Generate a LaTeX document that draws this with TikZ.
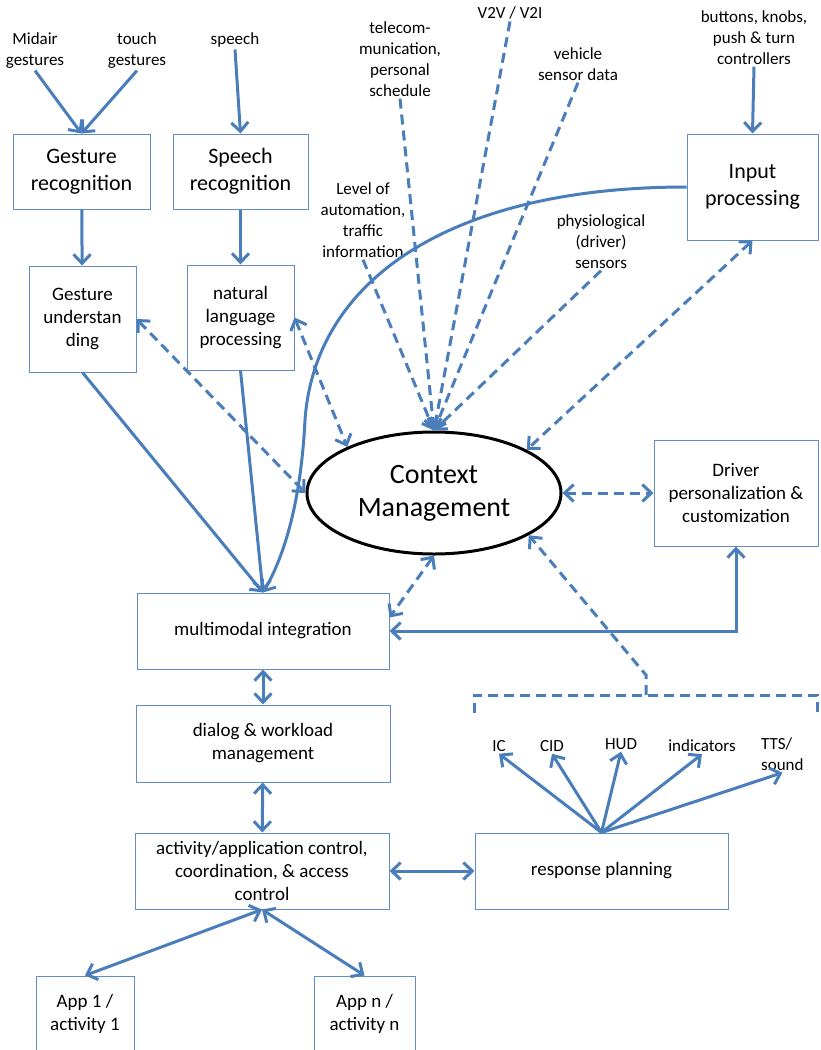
\documentclass[tikz,border=0pt]{standalone}
\usepackage{fontspec}
\setmainfont{Carlito}
\usetikzlibrary{arrows.meta,shapes.geometric}
\definecolor{flowblue}{RGB}{74,126,187}
\definecolor{boxblue}{RGB}{98,142,198}

\begin{document}
\begin{tikzpicture}[x=1pt, y=-1pt,
        box/.style={rectangle, draw=boxblue, line width=1pt, align=center, inner sep=2pt, font=\fontsize{19}{23}\selectfont},
        bigbox/.style={box, font=\fontsize{22}{27}\selectfont},
        src/.style={align=center, inner sep=2pt, font=\fontsize{17}{21}\selectfont},
        arrow/.style={draw=flowblue, line width=3pt, -{Straight Barb[length=9pt,width=17pt]}},
        both/.style={arrow, {Straight Barb[length=9pt,width=17pt]}-{Straight Barb[length=9pt,width=17pt]}},
        dasharrow/.style={arrow, dash pattern=on 10pt off 6pt},
        dboth/.style={both, dash pattern=on 10pt off 6pt}
    ]
        \path[use as bounding box] (0,0) rectangle (820,1050);
        \clip (0,0) rectangle (820,1050);

        \node[bigbox, minimum width=137pt, minimum height=75pt] (grec) at (81.5,171.5) {Gesture\\recognition};
        \node[bigbox, minimum width=135pt, minimum height=75pt] (srec) at (240.5,171.5) {Speech\\recognition};
        \node[box, minimum width=107pt, minimum height=106pt] (gund) at (82.5,319) {Gesture\\understan\\ding};
        \node[box, minimum width=107pt, minimum height=105pt] (nlp) at (240.5,317.5) {natural\\language\\processing};
        \node[bigbox, minimum width=131pt, minimum height=106pt] (inproc) at (752.5,187) {Input\\processing};
        \node[ellipse, draw=black, line width=3pt, minimum width=254pt, minimum height=122pt, inner sep=0pt, align=center, font=\fontsize{28}{33}\selectfont] (ctx) at (434,493) {Context\\Management};
        \node[box, minimum width=164pt, minimum height=106pt] (driver) at (736,493) {Driver\\personalization \&\\customization};
        \node[box, minimum width=252pt, minimum height=76pt] (mmi) at (263,631) {multimodal integration};
        \node[box, minimum width=254pt, minimum height=77pt] (dialog) at (263,743.5) {dialog \& workload\\management};
        \node[box, minimum width=254pt, minimum height=76pt] (act) at (262,871) {activity/application control,\\coordination, \& access\\control};
        \node[box, minimum width=253pt, minimum height=76pt] (resp) at (601.5,871) {response planning};
        \node[box, minimum width=98pt, minimum height=76pt] (app1) at (85,1014) {App 1 /\\activity 1};
        \node[box, minimum width=101pt, minimum height=76pt] (appn) at (364.5,1014) {App n /\\activity n};

        \node[src] (midair) at (35,50.5) {Midair\\gestures};
        \node[src] (touch) at (137,50.5) {touch\\gestures};
        \node[src] (speech) at (235,40) {speech};
        \node[src] (telecom) at (400,59) {telecom-\\munication,\\personal\\schedule};
        \node[src] (v2v) at (510,13) {V2V / V2I};
        \node[src] (vehicle) at (578,64) {vehicle\\sensor data};
        \node[src] (buttons) at (754,37.5) {buttons, knobs,\\push \& turn\\controllers};
        \node[src] (level) at (363,220) {Level of\\automation,\\traffic\\information};
        \node[src] (physio) at (601,241.5) {physiological\\(driver)\\sensors};

        \node[src] (ic) at (499,746) {IC};
        \node[src] (cid) at (552,746) {CID};
        \node[src] (hud) at (621,744) {HUD};
        \node[src] (indic) at (702,746) {indicators};
        \node[src, align=left, anchor=west] (tts) at (759,754) {TTS/\\sound};

        \coordinate (bracketl) at (474,713);
        \coordinate (bracketr) at (817,713);
        \coordinate (bracketm) at (646,695);

        \draw[arrow] (midair.south) -- (grec.north);
        \draw[arrow] (touch.south) -- (grec.north);
        \draw[arrow] (speech.south) -- (srec.north);
        \draw[arrow] (grec) -- (gund);
        \draw[arrow] (srec) -- (nlp);
        \draw[arrow] (buttons.south) -- (inproc.north);

        \draw[dasharrow] (level.south) -- (ctx.north);
        \draw[dasharrow] (telecom.south) -- (ctx.north);
        \draw[dasharrow] (v2v.south) -- (ctx.north);
        \draw[dasharrow] (vehicle.south) -- (ctx.north);
        \draw[dasharrow] (physio.south) -- (ctx.north);
        \draw[dboth] (inproc.south) -- (ctx.25);
        \draw[dboth] (gund.east) -- (ctx.west);
        \draw[dboth] (nlp.east) -- (ctx.152);
        \draw[dboth] (ctx.east) -- (driver.west);
        \draw[dboth] (ctx.south) -- ([yshift=-25pt]mmi.north east);

        \draw[arrow] (gund.south) -- (mmi.north);
        \draw[arrow] (nlp.south) -- (mmi.north);
        \draw[arrow] (inproc.west) .. controls (450,187) and (315,280) .. (305,420) .. controls (301,500) and (285,555) .. (mmi.north);
        \draw[both] (driver.south) |- (mmi.east);

        \draw[both] (mmi) -- (dialog);
        \draw[both] (dialog) -- (act);
        \draw[both] (act) -- (resp);
        \draw[both] (act.south) -- (app1.north);
        \draw[both] (act.south) -- (appn.north);

        \draw[arrow] (resp.north) -- (ic.south);
        \draw[arrow] (resp.north) -- (cid.south);
        \draw[arrow] (resp.north) -- (hud.south);
        \draw[arrow] (resp.north) -- (indic.south);
        \draw[arrow] (resp.north) -- (tts.south);

        \draw[draw=flowblue, line width=3pt, dash pattern=on 10pt off 6pt] (bracketl) -- ++(0,-18) -| (bracketr);
        \draw[dasharrow] (bracketm) -- ++(0,-20) -- (ctx.-24);
    \end{tikzpicture}
\end{document}
